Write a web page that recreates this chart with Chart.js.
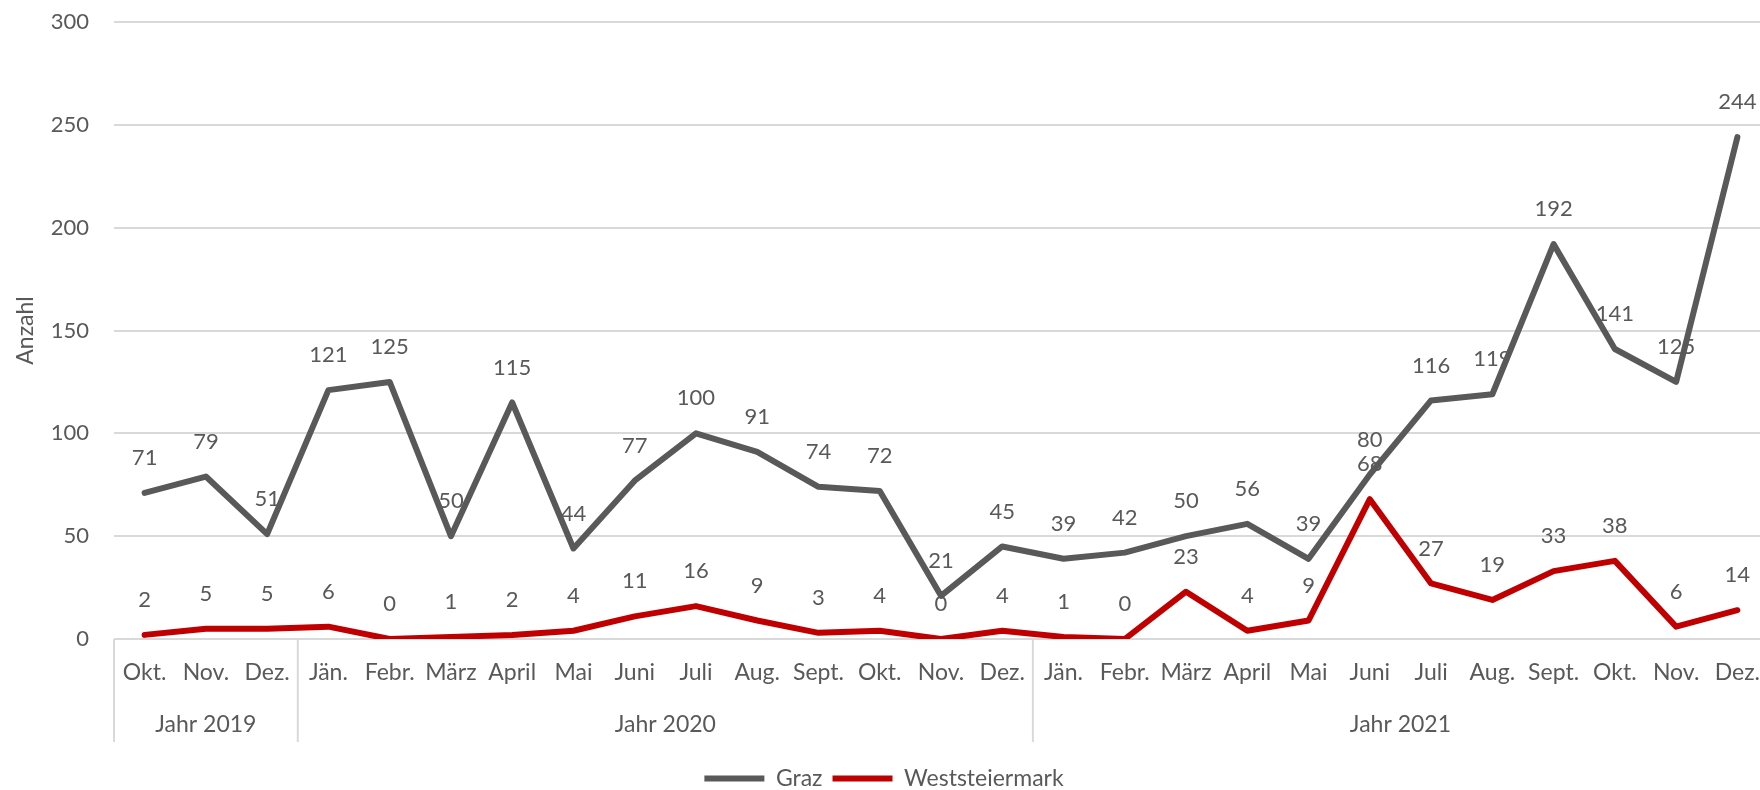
<!DOCTYPE html>
<html>
<head>
<meta charset="utf-8">
<script src="https://cdn.jsdelivr.net/npm/chart.js@4/dist/chart.umd.min.js"></script>
<style>
  html, body { margin: 0; padding: 0; background: #fff; overflow: hidden; }
  #wrap { width: 1760px; height: 790px; overflow: hidden; }
</style>
</head>
<body>
<div id="wrap"><canvas id="chart" width="1768" height="790"></canvas></div>
<script>
const months = [
  "Okt.", "Nov.", "Dez.",
  "Jän.", "Febr.", "März", "April", "Mai", "Juni", "Juli", "Aug.", "Sept.", "Okt.", "Nov.", "Dez.",
  "Jän.", "Febr.", "März", "April", "Mai", "Juni", "Juli", "Aug.", "Sept.", "Okt.", "Nov.", "Dez.",
];
const years = ["Jahr 2019", "Jahr 2020", "Jahr 2021"];
const monthsPerYear = [3, 12, 12];

const graz = [71, 79, 51, 121, 125, 50, 115, 44, 77, 100, 91, 74, 72, 21, 45,
  39, 42, 50, 56, 39, 80, 116, 119, 192, 141, 125, 244];
const weststeiermark = [2, 5, 5, 6, 0, 1, 2, 4, 11, 16, 9, 3, 4, 0, 4,
  1, 0, 23, 4, 9, 68, 27, 19, 33, 38, 6, 14];

const textColor = "#595959";
const fontFamily = "Lato, 'Open Sans', sans-serif";
const fontSize = 23;

// value labels above each point
const pointLabels = {
  id: "pointLabels",
  afterDatasetsDraw(chart) {
    const ctx = chart.ctx;
    ctx.save();
    ctx.font = "22px " + fontFamily;
    ctx.fillStyle = textColor;
    ctx.textAlign = "center";
    ctx.textBaseline = "middle";
    chart.data.datasets.forEach((ds, i) => {
      chart.getDatasetMeta(i).data.forEach((pt, j) => {
        ctx.fillText(String(ds.data[j]), pt.x, pt.y - 35);
      });
    });
    ctx.restore();
  },
};

// second row of the x axis: year groups with dividers
const yearGroups = {
  id: "yearGroups",
  afterDraw(chart) {
    const x = chart.scales.x;
    const bottom = chart.chartArea.bottom;
    const step = x.getPixelForValue(1) - x.getPixelForValue(0);
    const ctx = chart.ctx;
    ctx.save();
    ctx.strokeStyle = "#d9d9d9";
    ctx.lineWidth = 2;
    ctx.font = fontSize + "px " + fontFamily;
    ctx.fillStyle = textColor;
    ctx.textAlign = "center";
    ctx.textBaseline = "middle";
    let start = 0;
    years.forEach((label, k) => {
      const n = monthsPerYear[k];
      const left = x.getPixelForValue(start) - step / 2;
      const right = x.getPixelForValue(start + n - 1) + step / 2;
      ctx.beginPath();
      ctx.moveTo(left, bottom);
      ctx.lineTo(left, bottom + 103);
      ctx.stroke();
      ctx.fillText(label, (left + right) / 2, bottom + 86);
      start += n;
    });
    ctx.restore();
  },
};

new Chart(document.getElementById("chart"), {
  type: "line",
  data: {
    labels: months,
    datasets: [
      {
        label: "Graz",
        data: graz,
        borderColor: "#595959",
        backgroundColor: "#595959",
        borderWidth: 6,
        borderCapStyle: "round",
        borderJoinStyle: "round",
        pointRadius: 0,
        tension: 0,
      },
      {
        label: "Weststeiermark",
        data: weststeiermark,
        borderColor: "#c00000",
        backgroundColor: "#c00000",
        borderWidth: 6,
        borderCapStyle: "round",
        borderJoinStyle: "round",
        pointRadius: 0,
        tension: 0,
      },
    ],
  },
  options: {
    responsive: false,
    animation: false,
    layout: { padding: { top: 22, left: 0, right: 0, bottom: -10 } },
    plugins: {
      tooltip: { enabled: false },
      legend: {
        position: "bottom",
        labels: {
          usePointStyle: true,
          pointStyle: "line",
          pointStyleWidth: 60,
          color: textColor,
          font: { family: fontFamily, size: fontSize },
          padding: 10,
        },
      },
    },
    scales: {
      x: {
        offset: true,
        grid: { display: false, drawTicks: false },
        border: { display: false },
        ticks: {
          autoSkip: false,
          maxRotation: 0,
          padding: 20,
          color: textColor,
          font: { family: fontFamily, size: fontSize },
        },
        afterFit(scale) {
          scale.height = 118;
          scale.paddingLeft = 0;
          scale.paddingRight = 0;
        },
      },
      y: {
        min: 0,
        max: 300,
        ticks: {
          stepSize: 50,
          padding: 25,
          color: textColor,
          font: { family: fontFamily, size: 22 },
        },
        grid: { color: "#d9d9d9", lineWidth: 2, drawTicks: false },
        border: { display: false },
        title: {
          display: true,
          text: "Anzahl",
          color: textColor,
          font: { family: fontFamily, size: fontSize },
          padding: { top: 12, bottom: 0 },
        },
        afterFit(scale) {
          scale.width = 114;
          scale.paddingTop = 0;
          scale.paddingBottom = 0;
        },
      },
    },
  },
  plugins: [pointLabels, yearGroups],
});
</script>
</body>
</html>
